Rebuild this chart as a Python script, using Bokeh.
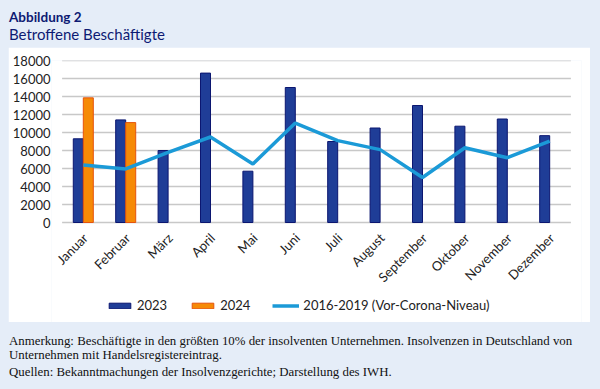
import math
from bokeh.plotting import figure
from bokeh.models import (ColumnDataSource, FactorRange, Range1d, Legend, LegendItem,
                          Div, FixedTicker, NumeralTickFormatter)
from bokeh.layouts import column
from bokeh.transform import dodge
from bokeh.core.properties import value
from bokeh.embed import file_html
from bokeh.resources import INLINE

# ---- data ----
months = ["Januar", "Februar", "März", "April", "Mai", "Juni", "Juli", "August",
          "September", "Oktober", "November", "Dezember"]
v2023 = [9300, 11400, 8000, 16600, 5700, 15000, 9000, 10500, 13000, 10700, 11500, 9650]
months_2024 = ["Januar", "Februar"]
v2024 = [13850, 11100]
vor_corona = [6400, 5950, 7800, 9500, 6500, 11050, 9100, 8100, 5000, 8300, 7200, 9050]
y_ticks = [0, 2000, 4000, 6000, 8000, 10000, 12000, 14000, 16000, 18000]

title_line1 = "Abbildung 2"
title_line2 = "Betroffene Beschäftigte"
note1 = ("Anmerkung: Beschäftigte in den größten 10% der insolventen Unternehmen. "
         "Insolvenzen in Deutschland von Unternehmen mit Handelsregistereintrag.")
note2 = "Quellen: Bekanntmachungen der Insolvenzgerichte; Darstellung des IWH."

BG = "#e5edf8"
NAVY_TXT = "#0d1a73"
C23 = "#1f3d97"
C23_LINE = "#0b1670"
C24 = "#f68a06"
C24_LINE = "#e5530d"
CLINE = "#1b9ad7"
GRID = "#c8c8c8"
FONT = "Lato"

# ---- geometry (pixels) ----
PLOT_PX = 162      # height of 0..max value area
BELOW_PX = 100     # space below the zero line (month labels + legend)
Y_MAX = y_ticks[-1]
Y_MIN = -Y_MAX * BELOW_PX / PLOT_PX
X_PAD = 0.25       # extra room (category units, each side) for rotated labels

src23 = ColumnDataSource(dict(m=months, v=v2023))
src24 = ColumnDataSource(dict(m=months_2024, v=v2024))
srcl = ColumnDataSource(dict(m=months, v=vor_corona))
srcm = ColumnDataSource(dict(m=months, z=[0] * len(months)))
srcg = ColumnDataSource(dict(a=[months[0]] * len(y_ticks), b=[months[-1]] * len(y_ticks), y=y_ticks))

xr = FactorRange(*months, range_padding=X_PAD, range_padding_units="absolute")
p = figure(width=582, height=275, x_range=xr, y_range=Range1d(Y_MIN, Y_MAX),
           output_backend="svg", toolbar_location=None, x_axis_location=None,
           min_border_left=43, min_border_right=9, min_border_top=13, min_border_bottom=0,
           background_fill_color="white", border_fill_color="white", outline_line_color=None,
           margin=(0, 10, 0, 8))

# horizontal grid lines spanning the category extent
p.segment(x0=dodge("a", -0.5, range=xr), y0="y", x1=dodge("b", 0.5, range=xr), y1="y",
          source=srcg, line_color=GRID, line_width=1.5)

bw = 0.236
r23 = p.vbar(x=dodge("m", -0.118, range=xr), top="v", width=bw, source=src23,
             fill_color=C23, line_color=C23_LINE, line_width=1)
r24 = p.vbar(x=dodge("m", 0.118, range=xr), top="v", width=bw, source=src24,
             fill_color=C24, line_color=C24_LINE, line_width=1)
rl = p.line(x="m", y="v", source=srcl, line_color=CLINE, line_width=3.5)

# month labels (rotated) under the zero line
p.text(x="m", y="z", text="m", source=srcm, angle=math.pi / 4,
       text_align="right", text_baseline="middle", x_offset=2, y_offset=13,
       text_font=value(FONT), text_font_size="13px", text_color="#222222")

p.xgrid.grid_line_color = None
p.ygrid.grid_line_color = None
p.yaxis.ticker = FixedTicker(ticks=y_ticks)
p.yaxis.formatter = NumeralTickFormatter(format="0")
p.yaxis.axis_line_color = None
p.yaxis.major_tick_line_color = None
p.yaxis.minor_tick_line_color = None
p.yaxis.major_tick_out = 0
p.yaxis.major_tick_in = 0
p.yaxis.major_label_text_font = FONT
p.yaxis.major_label_text_font_size = "13px"
p.yaxis.major_label_text_color = "#222222"
p.yaxis.major_label_standoff = 1

legend = Legend(items=[LegendItem(label="2023", renderers=[r23]),
                       LegendItem(label="2024", renderers=[r24]),
                       LegendItem(label="2016-2019 (Vor-Corona-Niveau)", renderers=[rl])],
                orientation="horizontal", location=(55, 9),
                glyph_width=27, glyph_height=7, label_standoff=4, spacing=22,
                padding=0, margin=0, border_line_color=None, background_fill_alpha=0,
                label_text_font=FONT, label_text_font_size="13px", label_text_color="#222222",
                label_height=14)
p.add_layout(legend, "center")

title_div = Div(text=(
    f'<div style="font-family:{FONT};color:{NAVY_TXT};padding-left:9px;padding-top:10px;">'
    f'<div style="font-weight:bold;font-size:13.5px;line-height:15px;">{title_line1}</div>'
    f'<div style="font-size:15px;line-height:18px;">{title_line2}</div></div>'),
    width=600, height=47, margin=0)

note_div = Div(text=(
    f'<div style="font-family:\'Liberation Serif\';font-size:12.85px;color:#111;padding-left:9px;padding-top:13px;">'
    f'<div style="line-height:13.8px;">{note1}</div>'
    f'<div style="line-height:13.8px;margin-top:3.4px;">{note2}</div></div>'),
    width=600, height=67, margin=0)

layout = column(title_div, p, note_div, width=600, height=389, margin=0,
                styles={"background-color": BG})

open("out.html", "w").write(file_html(layout, INLINE))
